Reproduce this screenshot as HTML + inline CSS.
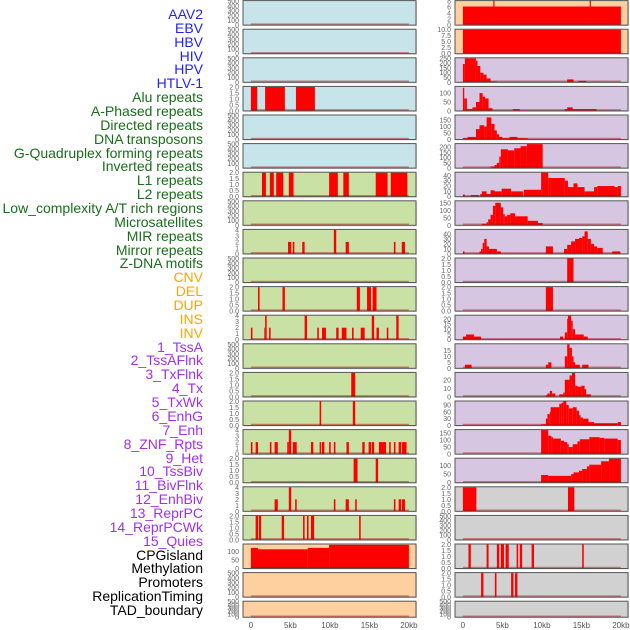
<!DOCTYPE html>
<html><head><meta charset="utf-8">
<style>
html,body{margin:0;padding:0;background:#fff;width:630px;height:630px;overflow:hidden}
#labels{position:absolute;left:0;top:8px;width:203px;font-family:"Liberation Sans",sans-serif;font-size:14px;line-height:13.86px;text-align:right}
#labels div{white-space:nowrap;height:13.86px}
svg{position:absolute;left:0;top:0}
</style></head>
<body>
<div id="labels">
<div style="color:#2222ff">AAV2</div>
<div style="color:#2222ff">EBV</div>
<div style="color:#2222ff">HBV</div>
<div style="color:#2222ff">HIV</div>
<div style="color:#2222ff">HPV</div>
<div style="color:#2222ff">HTLV-1</div>
<div style="color:#1a6e1a">Alu repeats</div>
<div style="color:#1a6e1a">A-Phased repeats</div>
<div style="color:#1a6e1a">Directed repeats</div>
<div style="color:#1a6e1a">DNA transposons</div>
<div style="color:#1a6e1a">G-Quadruplex forming repeats</div>
<div style="color:#1a6e1a">Inverted repeats</div>
<div style="color:#1a6e1a">L1 repeats</div>
<div style="color:#1a6e1a">L2 repeats</div>
<div style="color:#1a6e1a">Low_complexity A/T rich regions</div>
<div style="color:#1a6e1a">Microsatellites</div>
<div style="color:#1a6e1a">MIR repeats</div>
<div style="color:#1a6e1a">Mirror repeats</div>
<div style="color:#1a6e1a">Z-DNA motifs</div>
<div style="color:#ffa500">CNV</div>
<div style="color:#ffa500">DEL</div>
<div style="color:#ffa500">DUP</div>
<div style="color:#ffa500">INS</div>
<div style="color:#ffa500">INV</div>
<div style="color:#a030f0">1_TssA</div>
<div style="color:#a030f0">2_TssAFlnk</div>
<div style="color:#a030f0">3_TxFlnk</div>
<div style="color:#a030f0">4_Tx</div>
<div style="color:#a030f0">5_TxWk</div>
<div style="color:#a030f0">6_EnhG</div>
<div style="color:#a030f0">7_Enh</div>
<div style="color:#a030f0">8_ZNF_Rpts</div>
<div style="color:#a030f0">9_Het</div>
<div style="color:#a030f0">10_TssBiv</div>
<div style="color:#a030f0">11_BivFlnk</div>
<div style="color:#a030f0">12_EnhBiv</div>
<div style="color:#a030f0">13_ReprPC</div>
<div style="color:#a030f0">14_ReprPCWk</div>
<div style="color:#a030f0">15_Quies</div>
<div style="color:#000">CPGisland</div>
<div style="color:#000">Methylation</div>
<div style="color:#000">Promoters</div>
<div style="color:#000">ReplicationTiming</div>
<div style="color:#000">TAD_boundary</div>
</div>
<svg id="chart" width="630" height="630"></svg>
<script>
// tick label sets
const T500=["0","100","200","300","400","500"];
const T2=["0.0","0.5","1.0","1.5","2.0"];
const T4=["0","1","2","3","4"];
const T8=["0","2","4","6","8"];
const T10=["0.0","2.5","5.0","7.5","10.0"];
const T250=["0","50","100","150","200","250"];
const T100=["0","50","100"];
const T150=["0","50","100","150"];
const T200=["0","50","100","150","200"];
const T40=["0","10","20","30","40"];
const T20=["0","5","10","15","20"];
const T15=["0","5","10","15"];
const T20b=["0","10","20"];
const T90=["0","30","60","90"];
const xTicks=[0,5,10,15,20];
const xTickLabels=["0","5kb","10kb","15kb","20kb"];
// left column segments [startKb,endKb,value]
const L03=[[0,0.8,2],[1.8,4.3,2],[5.7,8.1,2]];
const L06=[[1.4,1.9,2],[2.4,2.9,2],[3.2,4.1,2],[4.8,5.4,2],[9.9,11.0,2],[11.7,12.4,2],[15.8,17.3,2],[17.7,19.8,2]];
const L08=[[4.7,5.1,2],[5.3,5.5,2],[6.5,6.8,2],[10.5,10.8,4],[12.0,12.4,2],[18.1,18.3,2],[19.1,19.5,2]];
const L10=[[0.9,1.1,2],[4.0,4.3,2],[13.4,13.8,2],[14.7,15.2,2],[15.4,15.9,2]];
const L11=[[0,0.2,2],[1.7,1.8,2],[1.8,2.0,4],[2.3,2.5,2],[6.8,7.1,4],[8.4,8.6,2],[9.0,9.5,2],[10.8,11.1,2],[11.5,12.1,2],[12.8,13.0,2],[13.9,14.4,2],[15.3,15.6,4],[15.9,16.2,2],[17.2,17.4,2],[18.4,18.7,4]];
const L13=[[12.7,13.2,2]];
const L14=[[8.7,8.9,2],[12.9,13.2,2]];
const L15=[[0,0.2,2],[0.6,0.9,2],[2.4,2.6,2],[3.0,3.4,2],[4.6,4.8,2],[4.8,5.1,4],[5.3,5.8,2],[7.6,7.9,2],[8.7,8.9,2],[9.0,9.3,2],[9.9,10.1,2],[10.5,10.7,2],[12.1,12.4,2],[14.1,14.4,2],[14.9,15.2,2],[15.3,15.6,2],[16.2,16.6,2],[16.6,17.1,2],[17.5,17.7,2],[18.1,18.3,2],[18.7,19.0,2],[19.1,19.7,2]];
const L16=[[13.0,13.5,2],[15.8,16.1,2]];
const L17=[[3.0,3.4,2],[4.8,5.1,4],[5.6,5.8,2],[10.5,10.7,2],[12.0,12.4,2],[13.2,13.4,2],[18.1,18.3,2],[18.7,19.0,2],[19.1,19.5,2]];
const L18=[[0.6,0.9,2],[1.0,1.3,2],[3.9,4.2,2],[6.6,6.8,2],[7.1,7.3,2],[7.6,8.0,2],[13.7,13.9,2]];
const L19=[[0,0.9,120],[0.9,7.2,112],[7.2,9.9,120],[9.9,20.0,138]];
// right column segments
const R00=[[0,20,6.2],[3.85,4.0,8.5],[16.05,16.2,8.5]];
const R01=[[0,20,10]];
const R02=[[0,0.25,190],[0.25,1.65,250],[1.65,1.85,225],[1.85,2.2,170],[2.2,2.6,100],[2.6,3.0,80],[3.0,3.5,40],[3.5,4.3,10],[13.2,14.0,30],[14.6,15.6,15]];
const R03=[[0,0.17,130],[0.17,0.5,70],[0.5,1.2,10],[1.2,1.65,20],[1.65,2.1,50],[2.1,2.5,100],[2.5,2.8,80],[2.8,3.25,70],[3.25,3.75,15],[6.3,7.2,10],[12.9,13.2,10],[13.2,13.9,20],[13.9,14.3,10],[14.3,16.9,10]];
const R04=[[0,0.6,10],[0.6,1.65,20],[1.65,2.1,80],[2.1,2.7,110],[2.7,3.0,100],[3.0,3.6,170],[3.6,4.0,120],[4.0,4.3,70],[4.3,4.6,40],[4.6,5.0,20],[5.0,5.9,10],[5.9,6.9,20],[6.9,8.2,10]];
const R05=[[3.5,4.0,15],[4.0,4.3,30],[4.3,4.6,50],[4.6,4.8,110],[4.8,5.7,180],[5.7,6.5,170],[6.5,7.3,190],[7.3,8.1,210],[8.1,10.1,230]];
const R06=[[0,0.25,4],[1.0,2.0,3],[2.2,2.4,5],[2.4,3.0,10],[3.0,3.5,5],[3.5,4.0,12],[4.0,4.9,10],[4.9,6.1,15],[6.1,7.6,10],[7.7,9.9,13],[9.9,10.8,45],[10.8,11.1,35],[11.1,12.9,35],[12.9,13.3,30],[13.3,14.0,18],[14.0,14.5,25],[14.5,15.4,18],[15.4,16.6,10],[16.6,17.0,18],[17.0,19.2,20],[19.2,19.6,18],[19.6,20.0,20]];
const R07=[[2.4,3.0,10],[3.0,3.2,20],[3.2,3.5,40],[3.5,3.8,70],[3.8,4.1,130],[4.1,4.8,150],[4.8,5.1,120],[5.1,5.3,75],[5.3,5.6,60],[5.6,6.0,70],[6.0,6.6,80],[6.6,8.2,60],[8.2,9.5,30],[9.5,10.1,15]];
const R08=[[0,0.2,5],[2.1,2.3,5],[2.3,2.5,10],[2.5,2.7,22],[2.7,3.0,30],[3.0,3.3,15],[3.3,4.3,10],[4.3,4.8,5],[10.5,11.4,15],[12.8,13.2,10],[13.2,13.7,18],[13.7,14.2,25],[14.2,14.7,30],[14.7,15.1,32],[15.1,15.4,35],[15.4,15.8,45],[15.8,16.2,30],[16.2,16.6,20],[16.6,17.0,15],[17.0,17.7,12],[18.9,19.9,5]];
const R09=[[13.2,14.0,2]];
const R10=[[10.5,11.4,2]];
const R11=[[0,0.4,3],[0.4,1.4,5],[1.4,2.3,3],[12.3,12.7,3],[12.9,13.2,7],[13.2,13.3,20],[13.3,13.7,23],[13.7,13.9,18],[13.9,14.2,10],[14.2,15.3,5],[15.3,15.8,3]];
const R12=[[0.25,1.1,3],[10.5,10.8,3],[10.8,11.2,5],[12.9,13.2,10],[13.2,13.5,20],[13.5,13.8,17],[13.8,14.0,10],[14.0,14.2,5],[14.2,14.8,3],[15.1,15.9,3]];
const R13=[[10.5,10.7,2],[10.7,11.0,4],[11.0,11.3,7],[11.3,11.7,4],[12.2,12.7,3],[12.7,12.9,5],[12.9,13.5,20],[13.5,13.8,25],[13.8,14.2,28],[14.2,14.5,13],[14.5,15.0,12],[15.0,15.4,13],[15.4,15.6,9],[15.6,16.2,3]];
const R14=[[9.9,10.5,5],[10.5,10.7,30],[10.7,11.0,50],[11.0,11.1,60],[11.1,12.2,80],[12.2,12.5,95],[12.5,12.7,100],[12.7,13.1,105],[13.1,13.4,90],[13.4,13.9,75],[13.9,14.4,80],[14.4,14.7,65],[14.7,14.9,45],[14.9,15.2,35],[15.2,15.9,30],[15.9,16.6,15],[16.6,19.6,10],[19.6,20.0,15]];
const R15=[[9.9,10.8,170],[10.8,11.2,130],[11.2,11.4,120],[11.4,12.4,110],[12.4,12.8,95],[12.8,13.2,85],[13.2,13.4,70],[13.4,13.9,50],[13.9,14.5,70],[14.5,14.8,90],[14.8,16.0,105],[16.0,17.3,120],[17.3,17.9,115],[17.9,19.6,110],[19.6,20.0,100]];
const R16=[[9.9,10.8,45],[10.8,13.7,40],[13.7,14.0,50],[14.0,14.7,60],[14.7,15.1,70],[15.1,15.7,80],[15.7,16.0,95],[16.0,17.5,105],[17.5,18.5,125],[18.5,20.0,140]];
const R17=[[0,1.7,2],[13.3,14.1,2]];
const R19=[[0.7,1.0,2],[3.0,3.25,2],[4.3,4.6,2],[4.8,5.2,2],[5.4,5.8,2],[6.8,7.0,2],[7.2,7.5,2],[8.7,9.0,2],[15.1,15.3,2]];
const R20=[[2.3,2.6,2],[4.05,4.25,2],[6.1,6.4,2],[6.6,6.9,2]];

const BLUE="#c8e4eb",GREEN="#c9e1a4",ORANGE="#fed09f",PURPLE="#d7c6e1",GRAY="#d1d1d1";
const leftPanels=[
 [BLUE,[],T500,500],[BLUE,[],T500,500],[BLUE,[],T500,500],[BLUE,L03,T2,2],[BLUE,[],T500,500],[BLUE,[],T500,500],
 [GREEN,L06,T2,2],[GREEN,[],T500,500],[GREEN,L08,T4,4],[GREEN,[],T500,500],[GREEN,L10,T2,2],[GREEN,L11,T4,4],
 [GREEN,[],T500,500],[GREEN,L13,T2,2],[GREEN,L14,T2,2],[GREEN,L15,T4,4],[GREEN,L16,T2,2],[GREEN,L17,T4,4],[GREEN,L18,T2,2],
 [ORANGE,L19,T100,140],[ORANGE,[],T500,500],[ORANGE,[],T500,500]];
const rightPanels=[
 [ORANGE,R00,T8,8],[ORANGE,R01,T10,10],[PURPLE,R02,T250,250],[PURPLE,R03,T100,135],[PURPLE,R04,T150,185],[PURPLE,R05,T200,230],
 [PURPLE,R06,T40,45],[PURPLE,R07,T150,160],[PURPLE,R08,T40,48],[PURPLE,R09,T2,2],[PURPLE,R10,T2,2],[PURPLE,R11,T20,23],
 [PURPLE,R12,T15,20],[PURPLE,R13,T20b,28],[PURPLE,R14,T90,105],[PURPLE,R15,T150,170],[PURPLE,R16,T100,140],
 [GRAY,R17,T2,2],[GRAY,[],T500,500],[GRAY,R19,T2,2],[GRAY,R20,T2,2],[GRAY,[],T500,500]];

const NS="http://www.w3.org/2000/svg";
const svg=document.getElementById('chart');
function mk(tag,attrs,parent){const e=document.createElementNS(NS,tag);for(const k in attrs)e.setAttribute(k,attrs[k]);(parent||svg).appendChild(e);return e;}
function rowTop(i){return 0.6+28.6*i;}
function rowH(i){return i===21?16:24.5;}
function drawColumn(panels,x0,side){
  const W=173;
  const xs=kb=>x0+(kb+1.0)*7.9;
  panels.forEach((p,i)=>{
    const [bg,segs,ticks,ymax]=p;
    const top=rowTop(i),h=rowH(i);
    const g=mk('g',{});
    
    
    mk('rect',{x:x0+1,y:top+1,width:W,height:h,fill:'#bbb',opacity:0.5},g);
    const r=mk('rect',{x:x0,y:top,width:W,height:h,fill:bg},g);
    
    
    const ys=v=>top+h-(v/ymax)*(h-0.5);
    segs.forEach(s=>{
      const b=mk('rect',{x:xs(s[0]),y:ys(s[2]),width:Math.max(0.8,xs(s[1])-xs(s[0])),height:top+h-ys(s[2]),fill:'#ff0000'},g);
      
      
    });
    const bl=mk('line',{x1:xs(0),x2:xs(20),y1:top+h-1,y2:top+h-1,stroke:'#b00000','stroke-width':1.5,opacity:0.45},g);
    
    
    mk('rect',{x:x0,y:top,width:W,height:h,fill:'none',stroke:'#555','stroke-width':1},g);
    const n=ticks.length;
    ticks.forEach((t,j)=>{
      const v=(ymax===500)?j*100:parseFloat(t);
      const ty=ys(v)+2.5;
      const tx=mk('text',{x:x0-4,y:ty,'text-anchor':'end','font-size':7,'font-family':'Liberation Sans, sans-serif',fill:'#666'},g);
      tx.textContent=t;
      
      
    });
  });
  xTicks.forEach((k,j)=>{
    const t=mk('text',{x:xs(k),y:628,'text-anchor':'middle','font-size':8,'font-family':'Liberation Sans, sans-serif',fill:'#555'});
    t.textContent=xTickLabels[j];
    
    
  });
}
drawColumn(leftPanels,243,'left');
drawColumn(rightPanels,455,'right');
</script>
</body></html>
